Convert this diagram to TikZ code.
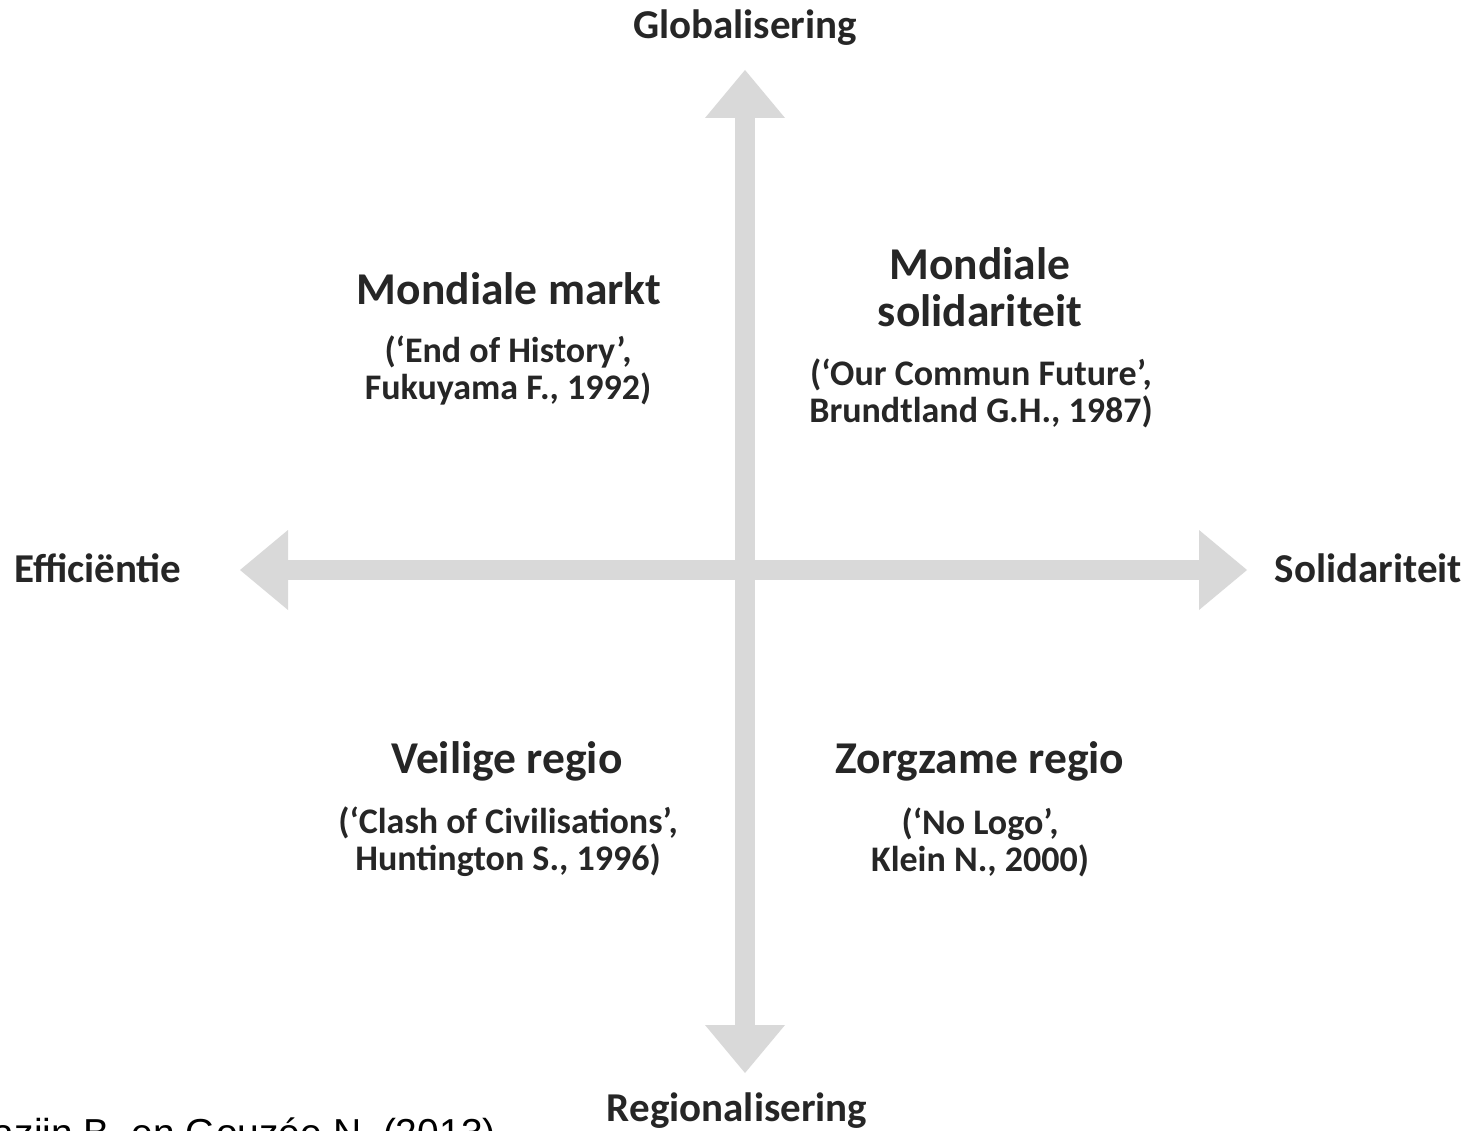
\documentclass[tikz,border=0pt]{standalone}
\usepackage{fontspec}
\setmainfont{Carlito}
\newfontfamily\citefont{Liberation Sans}
\usetikzlibrary{arrows.meta,positioning}
\begin{document}
\begin{tikzpicture}[x=1pt,y=-1pt,
  axis/.style={draw=gray!30,line width=20pt,{Triangle[length=48pt,width=80pt,line width=0pt]}-{Triangle[length=48pt,width=80pt,line width=0pt]}},
  pole/.style={font=\fontsize{41}{48}\selectfont\bfseries,text=black!85},
  scen/.style={font=\fontsize{45.5}{47}\selectfont\bfseries,align=center,text=black!85},
  ref/.style={font=\fontsize{36}{37}\selectfont\bfseries,align=center,text=black!85},
  every node/.style={inner sep=0pt}]
\useasboundingbox (0,0) rectangle (1470,1131);
\fill[white] (0,0) rectangle (1470,1131);
% axes
\coordinate (g) at (745,70);
\coordinate (r) at (745,1073);
\coordinate (e) at (240,570);
\coordinate (s) at (1247,570);
\draw[axis] (r) -- (g);
\draw[axis] (e) -- (s);
% poles
\node[pole] (glob) at (745,28) {Globalisering};
\node[pole] (reg) at (737,1111) {Regionalisering};
\node[pole,anchor=west] (eff) at (14,568) {Efficiëntie};
\node[pole,anchor=east] (sol) at (1462,568) {Solidariteit};
% quadrants
\node[scen] (mm) at (509,289) {Mondiale markt};
\node[ref] (mmref) at (508,370) {(‘End of History’,\\Fukuyama F., 1992)};
\node[scen] (ms) at (980,287) {Mondiale\\solidariteit};
\node[ref] (msref) at (981,393) {(‘Our Commun Future’,\\Brundtland G.H., 1987)};
\node[scen] (vr) at (507,761) {Veilige regio};
\node[ref] (vrref) at (508,842) {(‘Clash of Civilisations’,\\Huntington S., 1996)};
\node[scen] (zr) at (980,761) {Zorgzame regio};
\node[ref] (zrref) at (980,842) {(‘No Logo’,\\Klein N., 2000)};
% source
\node[font=\citefont\fontsize{39}{40}\selectfont,anchor=base east] (src) at (496,1146) {Mazijn B. en Gouzée N. (2013)};
\end{tikzpicture}
\end{document}
